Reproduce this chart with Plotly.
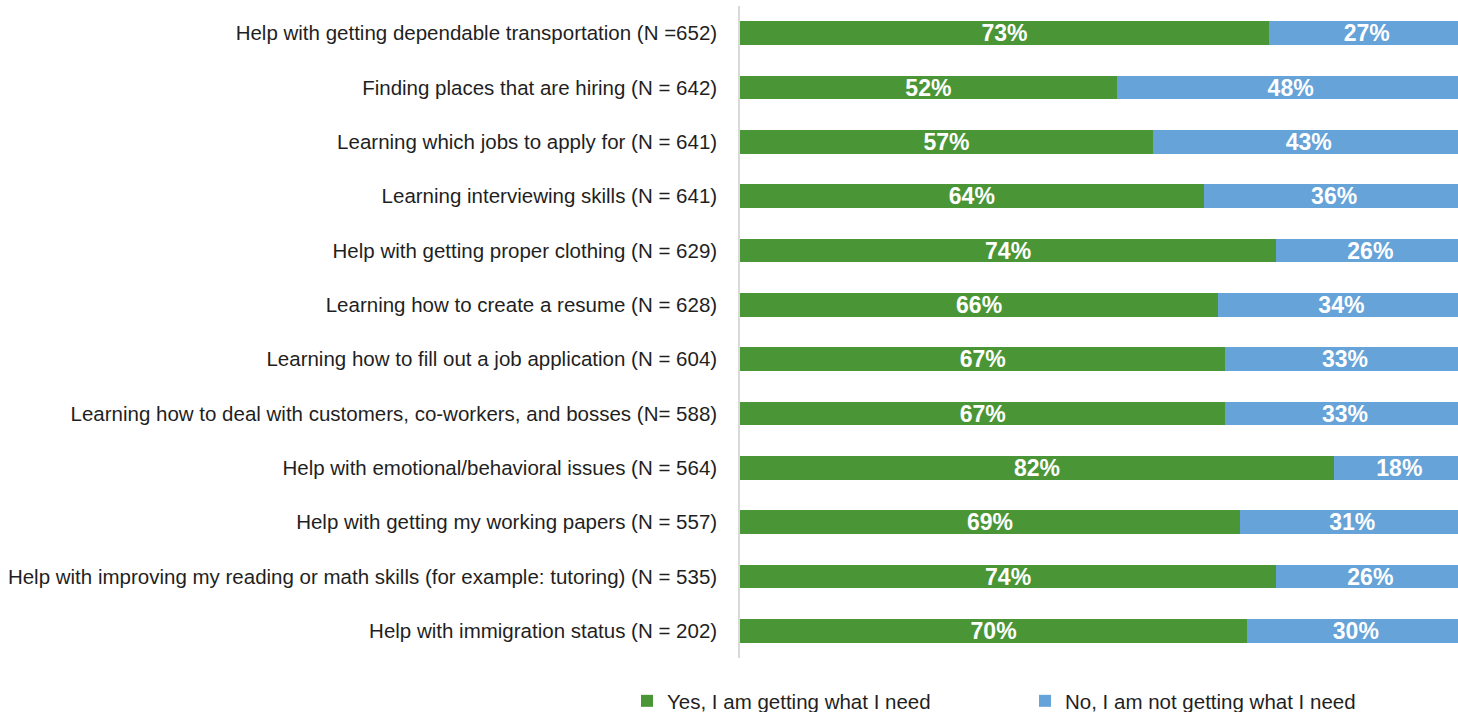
import plotly.graph_objects as go

categories = [
    "Help with getting dependable transportation (N =652)",
    "Finding places that are hiring (N = 642)",
    "Learning which jobs to apply for (N = 641)",
    "Learning interviewing skills (N = 641)",
    "Help with getting proper clothing (N = 629)",
    "Learning how to create a resume (N = 628)",
    "Learning how to fill out a job application (N = 604)",
    "Learning how to deal with customers, co-workers, and bosses (N= 588)",
    "Help with emotional/behavioral issues (N = 564)",
    "Help with getting my working papers (N = 557)",
    "Help with improving my reading or math skills (for example: tutoring) (N = 535)",
    "Help with immigration status (N = 202)",
]
yes_pct = [73, 52, 57, 64, 74, 66, 67, 67, 82, 69, 74, 70]
no_pct = [27, 48, 43, 36, 26, 34, 33, 33, 18, 31, 26, 30]

series_names = ["Yes, I am getting what I need", "No, I am not getting what I need"]
series_colors = ["#4a9637", "#65a3d8"]
legend_ids = ["legend", "legend2"]

LABEL_FONT = "Liberation Sans, Arial, sans-serif"
VALUE_FONT = "Liberation Sans, Arial, sans-serif"
TEXT_COLOR = "#1f1f1f"

fig = go.Figure()
for name, vals, color, leg in zip(series_names, [yes_pct, no_pct], series_colors, legend_ids):
    fig.add_trace(go.Bar(
        y=categories,
        x=vals,
        name=name,
        legend=leg,
        orientation="h",
        marker=dict(color=color, line=dict(width=0)),
        text=[f"{v}%" for v in vals],
        textposition="inside",
        insidetextanchor="middle",
        constraintext="none",
        textfont=dict(family=VALUE_FONT, size=23, color="white", weight="bold"),
        hoverinfo="skip",
    ))


def legend_box(x_px):
    # one legend entry per box, placed side by side under the bars
    return dict(
        orientation="h",
        xref="container",
        yref="container",
        x=x_px / 1458,
        xanchor="left",
        y=11 / 712,
        yanchor="middle",
        font=dict(family=LABEL_FONT, size=20.5, color=TEXT_COLOR),
        itemclick=False,
        itemdoubleclick=False,
    )


fig.update_layout(
    barmode="stack",
    bargap=0.56,
    width=1458,
    height=712,
    margin=dict(l=740, r=0, t=6, b=54, autoexpand=False),
    paper_bgcolor="white",
    plot_bgcolor="white",
    font=dict(family=LABEL_FONT, size=20.5, color=TEXT_COLOR),
    xaxis=dict(
        range=[0, 99.1],
        showgrid=False,
        zeroline=False,
        showticklabels=False,
        showline=False,
        fixedrange=True,
    ),
    yaxis=dict(
        autorange="reversed",
        showgrid=False,
        showline=True,
        linecolor="#d9d9d9",
        linewidth=1.5,
        ticks="",
        ticklabelstandoff=17,
        tickfont=dict(family=LABEL_FONT, size=20.5, color=TEXT_COLOR),
        fixedrange=True,
    ),
    legend=legend_box(627),
    legend2=legend_box(1025),
    showlegend=True,
)

fig.write_html("out.html")
